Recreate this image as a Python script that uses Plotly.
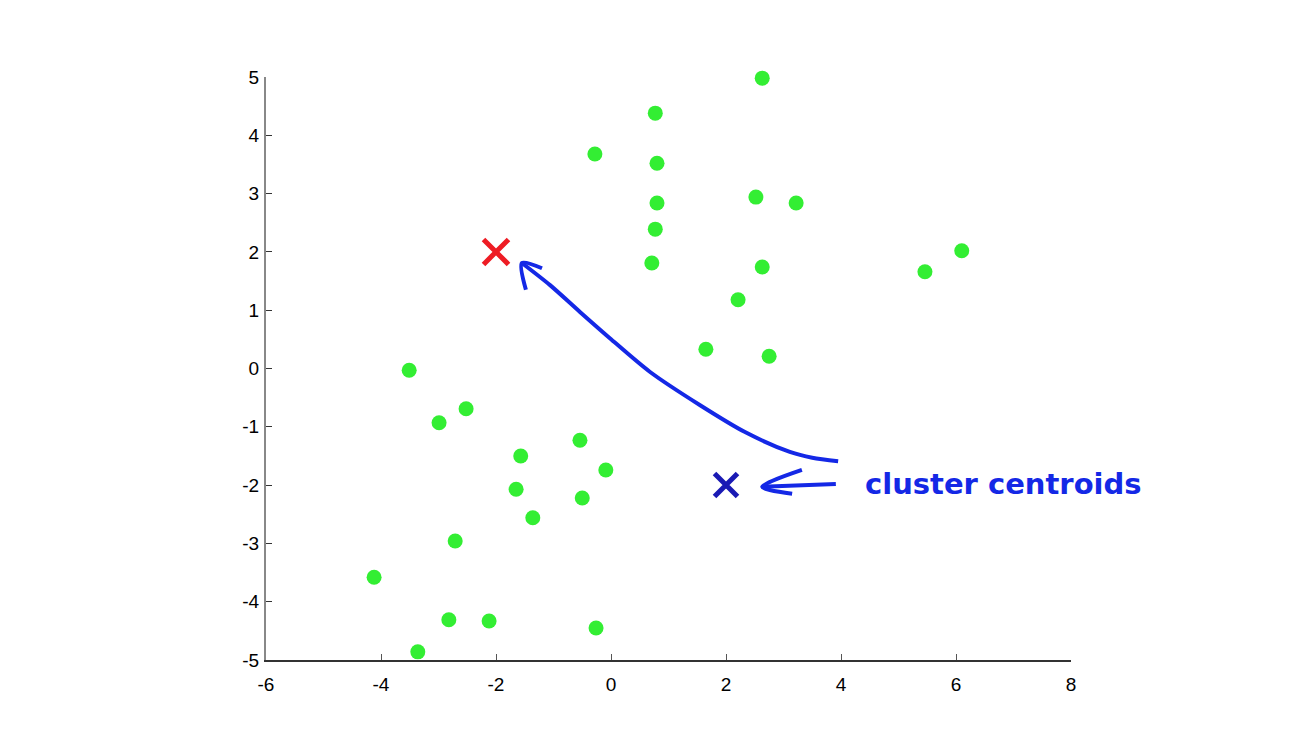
import plotly.graph_objects as go

# data points (green)
pts_x = [2.63, 0.77, -0.28, 0.80, 2.52, 3.22, 0.80, 0.77, 0.71, 2.63, 6.10, 5.46, 2.21, 1.65, 2.75,
         -3.51, -2.52, -2.99, -0.54, -1.57, -0.09, -1.65, -0.50, -1.36, -2.71, -4.12, -2.82, -2.12, -0.26, -3.36]
pts_y = [4.98, 4.38, 3.68, 3.52, 2.94, 2.84, 2.84, 2.39, 1.81, 1.74, 2.02, 1.66, 1.18, 0.33, 0.21,
         -0.03, -0.69, -0.93, -1.23, -1.50, -1.74, -2.07, -2.22, -2.56, -2.96, -3.58, -4.31, -4.33, -4.45, -4.86]

# cluster centroids
red_centroid = (-2.0, 2.0)
blue_centroid = (2.0, -2.0)

# hand-drawn annotation strokes (data coordinates)
curve_x = [3.95, 3.50, 3.11, 2.33, 1.55, 0.68, -0.02, -0.54, -1.06, -1.55]
curve_y = [-1.59, -1.53, -1.43, -1.09, -0.63, -0.06, 0.52, 0.97, 1.43, 1.81]
head1_x = [-1.20, -1.55, -1.48]
head1_y = [1.72, 1.81, 1.35]
arrow2_x = [3.91, 2.63]
arrow2_y = [-1.98, -2.03]
head2_x = [3.32, 2.63, 3.15]
head2_y = [-1.74, -2.03, -2.15]
label_text = "cluster centroids"
label_pos = (6.83, -1.98)

x_ticks = [-6, -4, -2, 0, 2, 4, 6, 8]
y_ticks = [-5, -4, -3, -2, -1, 0, 1, 2, 3, 4, 5]

stroke = "#1428e6"
tick_font = dict(family="Liberation Sans, Arial", size=19, color="black")

fig = go.Figure()
fig.add_trace(go.Scatter(x=pts_x, y=pts_y, mode="markers", cliponaxis=False,
                         marker=dict(color="#33ee33", size=15, line=dict(width=0))))
fig.add_trace(go.Scatter(x=[red_centroid[0]], y=[red_centroid[1]], mode="markers",
                         marker=dict(symbol="x-thin", size=25, line=dict(color="#ee1c24", width=5))))
fig.add_trace(go.Scatter(x=[blue_centroid[0]], y=[blue_centroid[1]], mode="markers",
                         marker=dict(symbol="x-thin", size=23, line=dict(color="#1a1ab4", width=5))))
for xs, ys in [(curve_x, curve_y), (head1_x, head1_y), (arrow2_x, arrow2_y), (head2_x, head2_y)]:
    fig.add_trace(go.Scatter(x=xs, y=ys, mode="lines",
                             line=dict(color=stroke, width=4, shape="spline", smoothing=0.8),
                             hoverinfo="skip"))

fig.add_annotation(x=label_pos[0], y=label_pos[1], text="<b>" + label_text + "</b>", showarrow=False,
                   xanchor="center", yanchor="middle",
                   font=dict(family="DejaVu Sans", size=29, color=stroke))

fig.update_layout(
    width=1316, height=734, showlegend=False,
    paper_bgcolor="white", plot_bgcolor="white",
    margin=dict(l=258, r=253, t=69, b=82),
    font=tick_font,
)
fig.update_xaxes(range=[-6, 8], tickvals=x_ticks, ticktext=[str(v) for v in x_ticks],
                 tickfont=tick_font, ticklabelstandoff=6,
                 ticks="inside", ticklen=6, tickcolor="#555",
                 showgrid=False, zeroline=False, showline=True, linecolor="#333", linewidth=1.5,
                 mirror=False)
fig.update_yaxes(range=[-5, 5], tickvals=y_ticks, ticktext=[str(v) for v in y_ticks],
                 tickfont=tick_font, ticklabelstandoff=1,
                 ticks="inside", ticklen=6, tickcolor="#333",
                 showgrid=False, zeroline=False, showline=True, linecolor="#888", linewidth=2,
                 mirror=False)

fig.write_html("out.html")
